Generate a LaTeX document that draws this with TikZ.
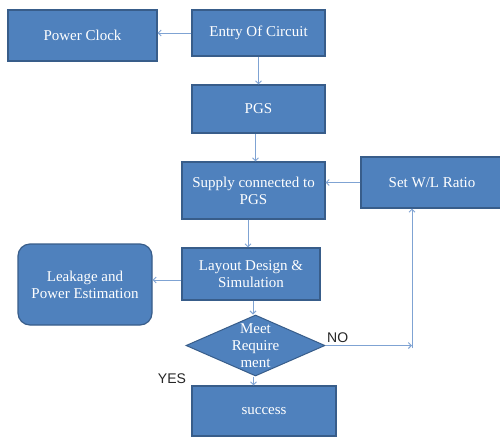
\documentclass[tikz,border=0pt]{standalone}
\usepackage{fontspec}
\setmainfont{Liberation Serif}
\newfontfamily\lsans{Liberation Sans}
\usetikzlibrary{shapes.geometric,arrows.meta}
\definecolor{boxfill}{HTML}{4F81BD}
\definecolor{boxline}{HTML}{385D8A}
\definecolor{arrowc}{HTML}{7FA3D3}
\begin{document}
\begin{tikzpicture}[x=1pt,y=-1pt,
  box/.style={draw=boxline, line width=1.2pt, fill=boxfill, text=white, align=center,
    font=\fontsize{15}{17}\selectfont, inner sep=0pt},
  dia/.style={draw=boxline, line width=1pt, fill=boxfill, shape=diamond, inner sep=0pt},
  diatext/.style={text=white, align=center, font=\fontsize{15}{17}\selectfont, inner sep=0pt},
  lbl/.style={text=black!85, font=\lsans\fontsize{14}{16}\selectfont, inner sep=0pt},
  conn/.style={draw=arrowc, line width=0.9pt, -{Straight Barb[length=3pt,width=6pt]}}]
\clip (0,0) rectangle (500,437);
\fill[white] (0,0) rectangle (500,437);
\node[box, minimum width=149, minimum height=51] (pc) at (82.5,35.5) {Power Clock};
\node[box, minimum width=133, minimum height=46] (entry) at (258.5,33) {Entry Of Circuit};
\node[box, minimum width=133, minimum height=48] (pgs) at (258.5,109) {PGS};
\node[box, minimum width=143, minimum height=57] (supply) at (253.5,190.5) {Supply connected to\\PGS};
\node[box, minimum width=142, minimum height=51] (setwl) at (432,182.5) {Set W/L Ratio};
\node[box, minimum width=138, minimum height=52] (layout) at (251,274) {Layout Design \&\\Simulation};
\node[box, rounded corners=12pt, minimum width=134, minimum height=81] (leak) at (85,284.5) {Leakage and\\Power Estimation};
\node[dia, minimum width=139, minimum height=61] (d) at (255.5,345.5) {};
\node[diatext] (dt) at (d.center) {Meet\\Require\\ment};
\node[box, minimum width=144, minimum height=50] (succ) at (264,411) {success};
\node[lbl, anchor=west] (no) at (327,338) {NO};
\node[lbl] (yes) at (172,379) {YES};
\coordinate (nr) at (412,348);
\draw[conn] (entry.west) -- (entry.west -| pc.east);
\draw[conn] (entry.south) -- (pgs.north);
\draw[conn] ([xshift=-3pt]pgs.south) -- ([xshift=-3pt]pgs.south |- supply.north);
\draw[conn] (setwl.west) -- (setwl.west -| supply.east);
\draw[conn] ([xshift=-5.5pt]supply.south) -- ([xshift=-5.5pt]supply.south |- layout.north);
\draw[conn] ([yshift=-6pt]layout.west) -- ([yshift=-6pt]layout.west -| leak.east);
\draw[conn] ([xshift=2pt]layout.south) -- ([xshift=2pt]layout.south |- d.north);
\draw[conn] (d.east) -- (d.east -| nr);
\draw[conn] (nr) -- (nr |- setwl.south);
\draw[conn] ([xshift=-2pt]d.south) -- ([xshift=-2pt]d.south |- succ.north);
\end{tikzpicture}
\end{document}
